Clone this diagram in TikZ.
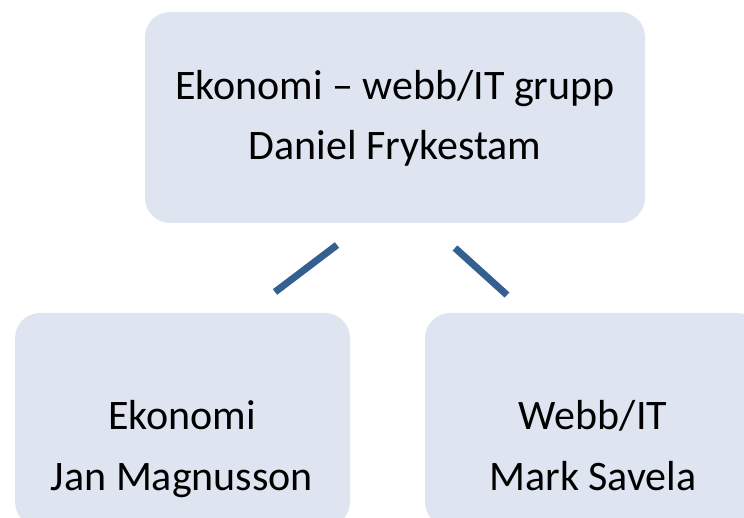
\documentclass[tikz,border=0pt]{standalone}
\usepackage{fontspec}
\setmainfont{Carlito}
\usetikzlibrary{positioning}
\definecolor{boxfill}{HTML}{DEE5F1}
\definecolor{linkblue}{HTML}{335F91}

\begin{document}
\begin{tikzpicture}[x=1pt, y=-1pt,
  unitbox/.style={fill=boxfill, rounded corners=25pt},
  nametext/.style={font=\fontsize{42}{50}\selectfont, anchor=base, inner sep=0pt},
  connector/.style={draw=linkblue, line width=7pt}]
\useasboundingbox (0,0) rectangle (744,518);
\begin{scope}
\clip (0,0) rectangle (744,518);
\fill[unitbox] (145,12) rectangle (645,223);
\fill[unitbox] (15,313) rectangle (350,527);
\fill[unitbox] (425,313) rectangle (762,527);
\end{scope}

\node[nametext] (grouptitle) at (395,100) {Ekonomi – webb/IT grupp};
\node[nametext] (grouphead) at (395,160) {Daniel Frykestam};
\node[nametext] (ekontitle) at (182,429) {Ekonomi};
\node[nametext] (ekonhead) at (182,490) {Jan Magnusson};
\node[nametext] (webbtitle) at (593,429) {Webb/IT};
\node[nametext] (webbhead) at (593,490) {Mark Savela};

% loose connector strokes between the levels
\coordinate (lefttop) at (337,245);
\coordinate (leftend) at (275,292);
\coordinate (righttop) at (455,248);
\coordinate (rightend) at (507,295);
\draw[connector] (lefttop) -- (leftend);
\draw[connector] (righttop) -- (rightend);
\end{tikzpicture}
\end{document}
